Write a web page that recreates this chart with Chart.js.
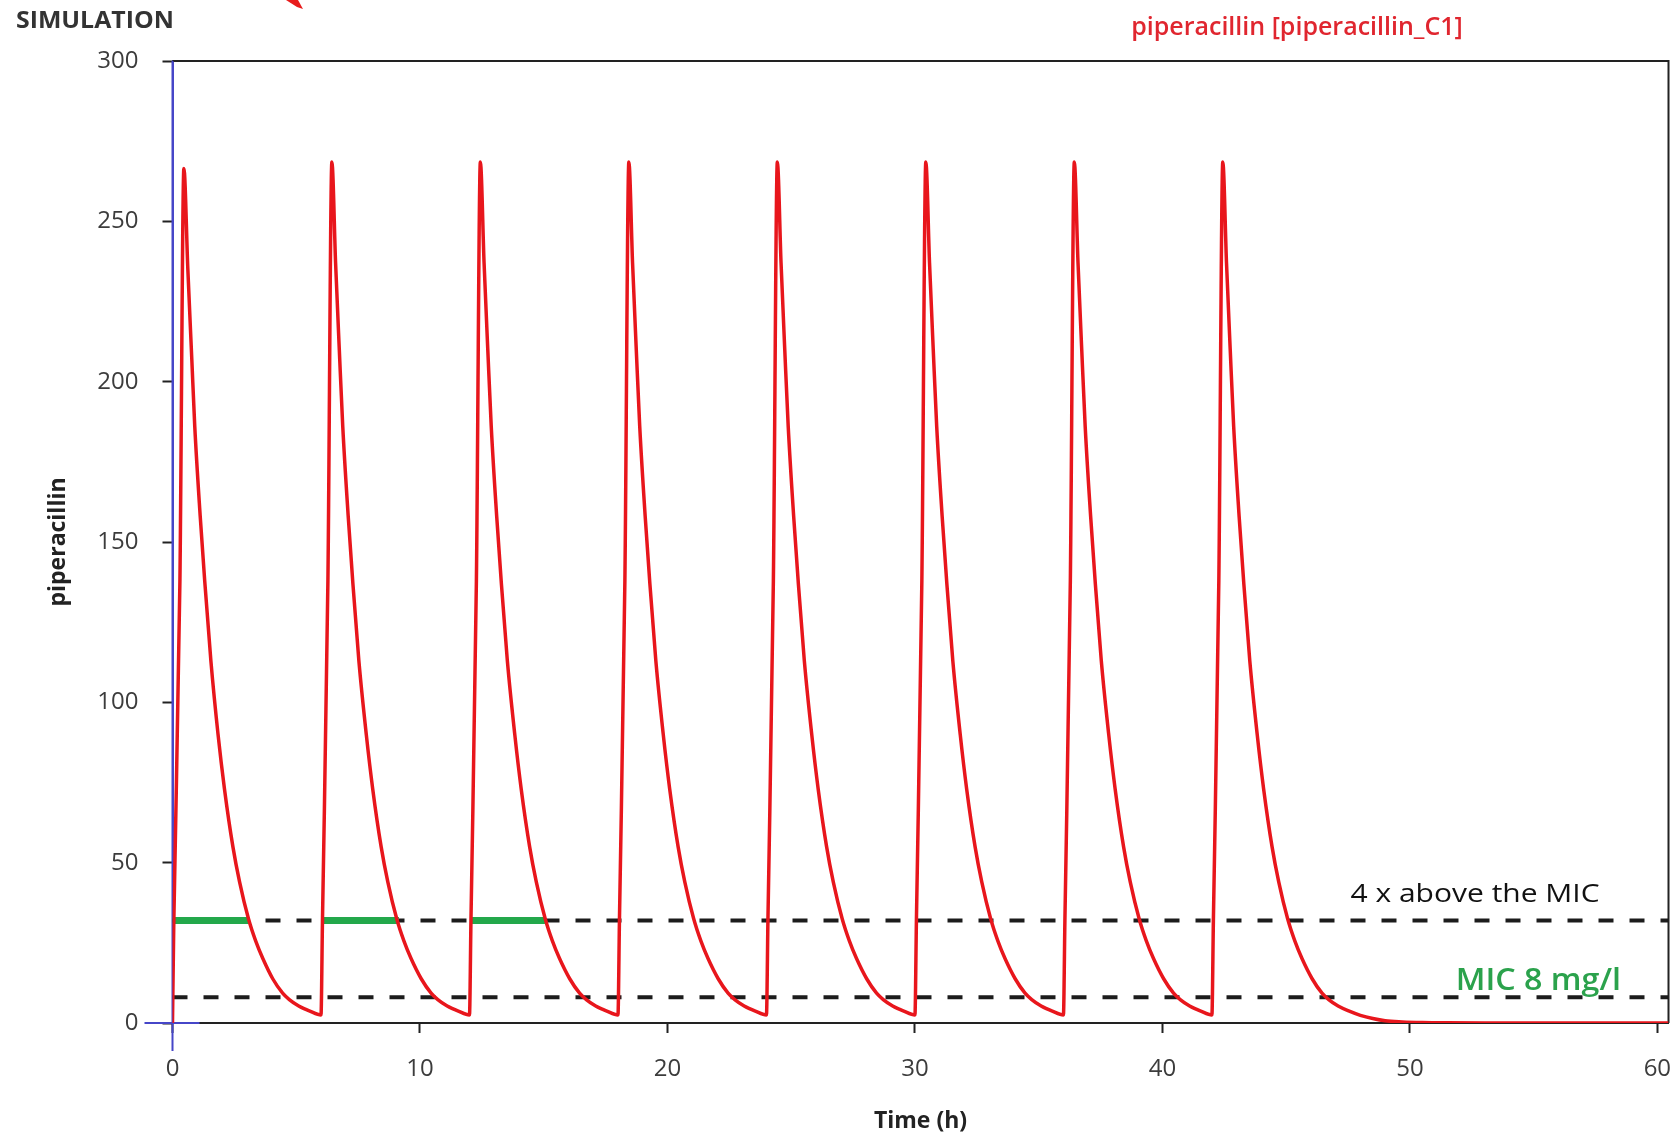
<!DOCTYPE html>
<html>
<head>
<meta charset="utf-8">
<script src="https://cdn.jsdelivr.net/npm/chart.js@4/dist/chart.umd.min.js"></script>
<style>
  html, body { margin: 0; padding: 0; background: #ffffff; }
  #wrap { width: 1676px; height: 1136px; position: relative; }
  canvas { display: block; }
</style>
</head>
<body>
<div id="wrap"><canvas id="c" width="1676" height="1136"></canvas></div>
<script>
// ---------- data ----------
const timeH = [
  0.00, 0.05, 0.30, 0.46, 0.62, 0.78, 0.90, 1.12, 1.30, 1.55, 1.84, 2.10, 2.44, 2.71, 3.07, 3.36, 3.65, 4.05, 4.45, 4.72, 5.10, 5.55,
  6.00, 6.06, 6.28, 6.44, 6.59, 6.74, 6.88, 7.10, 7.28, 7.53, 7.83, 8.09, 8.43, 8.70, 9.06, 9.35, 9.64, 10.05, 10.45, 10.72, 11.10, 11.55,
  12.00, 12.06, 12.28, 12.44, 12.59, 12.74, 12.88, 13.10, 13.28, 13.53, 13.83, 14.09, 14.43, 14.70, 15.06, 15.35, 15.64, 16.05, 16.45, 16.72, 17.10, 17.55,
  18.00, 18.06, 18.28, 18.44, 18.59, 18.74, 18.88, 19.10, 19.28, 19.53, 19.83, 20.09, 20.43, 20.70, 21.06, 21.35, 21.64, 22.05, 22.45, 22.72, 23.10, 23.55,
  24.00, 24.06, 24.28, 24.44, 24.59, 24.74, 24.88, 25.10, 25.28, 25.53, 25.83, 26.09, 26.43, 26.70, 27.06, 27.35, 27.64, 28.05, 28.45, 28.72, 29.10, 29.55,
  30.00, 30.06, 30.28, 30.44, 30.59, 30.74, 30.88, 31.10, 31.28, 31.53, 31.83, 32.09, 32.43, 32.70, 33.06, 33.35, 33.64, 34.05, 34.45, 34.72, 35.10, 35.55,
  36.00, 36.06, 36.28, 36.44, 36.59, 36.74, 36.88, 37.10, 37.28, 37.53, 37.83, 38.09, 38.43, 38.70, 39.06, 39.35, 39.64, 40.05, 40.45, 40.72, 41.10, 41.55,
  42.00, 42.06, 42.28, 42.44, 42.59, 42.74, 42.88, 43.10, 43.28, 43.53, 43.83, 44.09, 44.43, 44.70, 45.06, 45.35, 45.64, 46.05, 46.45, 46.72, 47.10, 47.55,
  48.00, 48.50, 49.00, 49.70, 50.50, 51.50, 53.00, 60.45
];
const piperacillin = [
  0, 30, 138, 266.5, 235, 207, 186, 158, 138, 113, 90, 73, 55, 44, 32.5, 25.6, 20.1, 13.8, 9.3, 7.3, 5.3, 3.7,
  2.5, 32, 138, 268.5, 237, 210, 186, 158, 138, 113, 90, 73, 55, 44, 32.5, 25.6, 20.1, 13.8, 9.3, 7.3, 5.3, 3.7,
  2.5, 32, 138, 268.5, 237, 210, 186, 158, 138, 113, 90, 73, 55, 44, 32.5, 25.6, 20.1, 13.8, 9.3, 7.3, 5.3, 3.7,
  2.5, 32, 138, 268.5, 237, 210, 186, 158, 138, 113, 90, 73, 55, 44, 32.5, 25.6, 20.1, 13.8, 9.3, 7.3, 5.3, 3.7,
  2.5, 32, 138, 268.5, 237, 210, 186, 158, 138, 113, 90, 73, 55, 44, 32.5, 25.6, 20.1, 13.8, 9.3, 7.3, 5.3, 3.7,
  2.5, 32, 138, 268.5, 237, 210, 186, 158, 138, 113, 90, 73, 55, 44, 32.5, 25.6, 20.1, 13.8, 9.3, 7.3, 5.3, 3.7,
  2.5, 32, 138, 268.5, 237, 210, 186, 158, 138, 113, 90, 73, 55, 44, 32.5, 25.6, 20.1, 13.8, 9.3, 7.3, 5.3, 3.7,
  2.5, 32, 138, 268.5, 237, 210, 186, 158, 138, 113, 90, 73, 55, 44, 32.5, 25.6, 20.1, 13.8, 9.3, 7.3, 5.3, 3.7,
  2.4, 1.4, 0.7, 0.35, 0.15, 0.05, 0, 0
];
const micLevel = 8;            // MIC 8 mg/l
const fourMicLevel = 32;       // 4 x above the MIC
const lineSpan = [0, 60.45];
const aboveStart = [0, 6.0, 12.05];
const aboveEnd = [3.1, 9.15, 15.05];
const xTickValues = [0, 10, 20, 30, 40, 50, 60];
const yTickValues = [0, 50, 100, 150, 200, 250, 300];
const xMin = 0, xMax = 60.45, yMin = 0, yMax = 300;

// ---------- build library structures ----------
const curvePoints = timeH.map((t, i) => ({ x: t, y: piperacillin[i] }));
const greenPoints = [];
aboveStart.forEach((s, i) => {
  greenPoints.push({ x: s, y: fourMicLevel });
  greenPoints.push({ x: aboveEnd[i], y: fourMicLevel });
  if (i < aboveStart.length - 1) greenPoints.push({ x: (aboveEnd[i] + aboveStart[i + 1]) / 2, y: null });
});

Chart.defaults.font.family = "'Open Sans', 'DejaVu Sans', sans-serif";

function stretchedText(ctx, text, x, y, sx, font, color, align) {
  ctx.save();
  ctx.font = font;
  ctx.fillStyle = color;
  ctx.textBaseline = 'alphabetic';
  ctx.textAlign = 'left';
  const w = ctx.measureText(text).width * sx;
  let left = x;
  if (align === 'center') left = x - w / 2;
  ctx.translate(left, y);
  ctx.scale(sx, 1);
  ctx.fillText(text, 0, 0);
  ctx.restore();
}

const decor = {
  id: 'decor',
  beforeDatasetsDraw(chart) {
    const { ctx, chartArea: a, scales: { x, y } } = chart;
    ctx.save();
    ctx.lineCap = 'butt';
    ctx.strokeStyle = '#222222';
    ctx.lineWidth = 2;
    ctx.beginPath();
    ctx.moveTo(a.left, a.top);
    ctx.lineTo(a.right, a.top);
    ctx.lineTo(a.right, a.bottom);
    ctx.stroke();
    const x0 = x.getPixelForValue(0), y0 = y.getPixelForValue(0);
    ctx.strokeStyle = '#4646c8';
    ctx.beginPath();
    ctx.moveTo(x0, a.top);
    ctx.lineTo(x0, y0 + 28);
    ctx.stroke();
    ctx.beginPath();
    ctx.moveTo(x0 - 28, y0);
    ctx.lineTo(x0 + 27, y0);
    ctx.stroke();
    ctx.restore();
  },
  afterDraw(chart) {
    const { ctx, scales: { x, y } } = chart;
    // cropped red arrow tip at top
    ctx.save();
    ctx.fillStyle = '#e81c1c';
    ctx.beginPath();
    ctx.moveTo(286, 0); ctx.lineTo(298, 0); ctx.lineTo(303, 9); ctx.lineTo(297, 7);
    ctx.closePath(); ctx.fill();
    ctx.restore();
    stretchedText(ctx, 'SIMULATION', 16, 28, 1.08, "bold 23px 'Open Sans'", '#333333', 'left');
    stretchedText(ctx, 'piperacillin [piperacillin_C1]', 1297, 35, 1.0, "600 25px 'Open Sans'", '#e0262f', 'center');
    stretchedText(ctx, '4 x above the MIC', x.getPixelForValue(47.6), y.getPixelForValue(fourMicLevel) - 18.5, 1.2, "25px 'Open Sans'", '#111111', 'left');
    stretchedText(ctx, 'MIC 8 mg/l', x.getPixelForValue(51.85), y.getPixelForValue(micLevel) - 7, 1.04, "600 31px 'Open Sans'", '#2ba24c', 'left');
  }
};

function noEdgePadding(s) {
  s.paddingLeft = 0; s.paddingRight = 0; s.paddingTop = 0; s.paddingBottom = 0;
}

new Chart(document.getElementById('c'), {
  type: 'line',
  data: {
    datasets: [
      {
        label: 'piperacillin [piperacillin_C1]',
        data: curvePoints,
        borderColor: '#e8161c',
        borderWidth: 3.5,
        pointRadius: 0,
        cubicInterpolationMode: 'monotone',
        fill: false,
        order: 0
      },
      {
        label: 'above 4 x MIC',
        data: greenPoints,
        borderColor: '#23a84b',
        borderWidth: 7,
        borderCapStyle: 'butt',
        pointRadius: 0,
        spanGaps: false,
        fill: false,
        order: 1
      },
      {
        label: '4 x above the MIC',
        data: lineSpan.map(t => ({ x: t, y: fourMicLevel })),
        borderColor: '#1c1c1c',
        borderWidth: 4,
        borderDash: [15, 16],
        borderCapStyle: 'butt',
        pointRadius: 0,
        fill: false,
        order: 2
      },
      {
        label: 'MIC 8 mg/l',
        data: lineSpan.map(t => ({ x: t, y: micLevel })),
        borderColor: '#1c1c1c',
        borderWidth: 4,
        borderDash: [15, 16],
        borderCapStyle: 'butt',
        pointRadius: 0,
        fill: false,
        order: 2
      }
    ]
  },
  options: {
    responsive: false,
    animation: false,
    devicePixelRatio: 1,
    layout: { padding: { top: 61, right: 7.5, bottom: 0, left: 0 } },
    plugins: {
      legend: { display: false },
      title: { display: false },
      tooltip: { enabled: false }
    },
    scales: {
      x: {
        type: 'linear',
        min: xMin,
        max: xMax,
        afterBuildTicks: s => { s.ticks = xTickValues.map(v => ({ value: v })); },
        afterFit: s => { s.height = 113; noEdgePadding(s); },
        grid: { display: true, drawOnChartArea: false, drawTicks: true, tickLength: 10, tickWidth: 2, tickColor: '#222222' },
        border: { display: true, color: '#222222', width: 2 },
        ticks: { color: '#3c3c3c', font: { size: 24 }, padding: 22, maxRotation: 0 },
        title: { display: true, text: 'Time (h)', color: '#222222', font: { size: 23, weight: 'bold' }, padding: { top: 0, bottom: 1 } }
      },
      y: {
        type: 'linear',
        min: yMin,
        max: yMax,
        afterBuildTicks: s => { s.ticks = yTickValues.map(v => ({ value: v })); },
        afterFit: s => { s.width = 172.5; noEdgePadding(s); },
        grid: { display: true, drawOnChartArea: false, drawTicks: true, tickLength: 10, tickWidth: 2, tickColor: '#222222' },
        border: { display: true, color: '#4646c8', width: 2 },
        ticks: { color: '#3c3c3c', font: { size: 24 }, padding: 24 },
        title: { display: true, text: 'piperacillin', color: '#222222', font: { size: 23, weight: 'bold' }, padding: { top: 45, bottom: 0 } }
      }
    }
  },
  plugins: [decor]
});
</script>
</body>
</html>
